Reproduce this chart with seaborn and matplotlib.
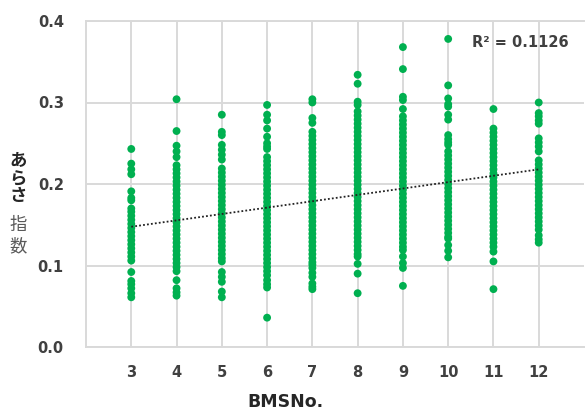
import matplotlib
matplotlib.use("Agg")
import matplotlib.pyplot as plt
import seaborn as sns
import pandas as pd
import numpy as np

# ---- data ----
bms_3 = [0.243, 0.225, 0.218, 0.212, 0.191, 0.183, 0.180, 0.170,
         0.166, 0.161, 0.156, 0.151, 0.146, 0.141, 0.136, 0.131, 0.126,
         0.121, 0.116, 0.111, 0.106, 0.092, 0.081, 0.077, 0.072, 0.066, 0.061]
bms_4 = [0.304, 0.265, 0.247, 0.240, 0.233,
         0.223, 0.218, 0.213, 0.208, 0.203, 0.198, 0.193, 0.188, 0.183, 0.178,
         0.173, 0.168, 0.163, 0.158, 0.153, 0.148, 0.143, 0.138, 0.133, 0.128,
         0.123, 0.118, 0.113, 0.108, 0.103, 0.098, 0.093,
         0.082, 0.072, 0.067, 0.063]
bms_5 = [0.285, 0.264, 0.260, 0.248, 0.242, 0.236, 0.230,
         0.219, 0.214, 0.209, 0.204, 0.199, 0.194, 0.189, 0.184, 0.179, 0.174,
         0.169, 0.164, 0.159, 0.154, 0.149, 0.144, 0.139, 0.134, 0.129, 0.124,
         0.119, 0.114, 0.109, 0.105,
         0.092, 0.086, 0.080, 0.068, 0.061]
bms_6 = [0.297, 0.285, 0.278, 0.268, 0.258, 0.250, 0.246, 0.243,
         0.233, 0.228, 0.223, 0.218, 0.213, 0.208, 0.203, 0.198, 0.193, 0.188,
         0.183, 0.178, 0.173, 0.168, 0.163, 0.158, 0.153, 0.148, 0.143, 0.138,
         0.133, 0.128, 0.123, 0.118, 0.113, 0.108, 0.103, 0.098, 0.093, 0.088,
         0.082, 0.077, 0.073, 0.036]
bms_7 = [0.304, 0.300, 0.281, 0.275,
         0.264, 0.259, 0.254, 0.249, 0.244, 0.239, 0.234, 0.229, 0.224, 0.219,
         0.214, 0.209, 0.204, 0.199, 0.194, 0.189, 0.184, 0.179, 0.174, 0.169,
         0.164, 0.159, 0.154, 0.149, 0.144, 0.139, 0.134, 0.129, 0.124, 0.119,
         0.114, 0.109, 0.104, 0.101,
         0.097, 0.091, 0.086, 0.078, 0.074, 0.071]
bms_8 = [0.334, 0.323, 0.301, 0.297,
         0.289, 0.284, 0.279, 0.274, 0.269, 0.264, 0.259, 0.254, 0.249, 0.244,
         0.239, 0.234, 0.229, 0.224, 0.219, 0.214, 0.209, 0.204, 0.199, 0.194,
         0.189, 0.184, 0.179, 0.174, 0.169, 0.164, 0.159, 0.154, 0.149, 0.144,
         0.139, 0.134, 0.129, 0.124, 0.119, 0.114, 0.111,
         0.102, 0.090, 0.066]
bms_9 = [0.368, 0.341, 0.307, 0.303, 0.292,
         0.283, 0.278, 0.273, 0.268, 0.263, 0.258, 0.253, 0.248, 0.243, 0.238,
         0.233, 0.228, 0.223, 0.218, 0.213, 0.208, 0.203, 0.198, 0.193, 0.188,
         0.183, 0.178, 0.173, 0.168, 0.163, 0.158, 0.153, 0.148, 0.143, 0.138,
         0.133, 0.128, 0.123, 0.119,
         0.111, 0.103, 0.097, 0.075]
bms_10 = [0.378, 0.321, 0.305, 0.298, 0.295, 0.285, 0.279,
          0.260, 0.255, 0.251, 0.248,
          0.240, 0.235, 0.230, 0.225, 0.220, 0.215, 0.210, 0.205, 0.200, 0.195,
          0.190, 0.185, 0.180, 0.175, 0.170, 0.165, 0.160, 0.155, 0.150, 0.145,
          0.140, 0.135, 0.133,
          0.125, 0.118, 0.110]
bms_11 = [0.292,
          0.268, 0.263, 0.258, 0.253, 0.248, 0.243, 0.238, 0.233, 0.228, 0.223,
          0.218, 0.213, 0.208, 0.203, 0.198, 0.193, 0.188, 0.183, 0.178, 0.173,
          0.168, 0.163, 0.158, 0.153, 0.148, 0.143, 0.138, 0.133, 0.128, 0.123,
          0.117, 0.105, 0.071]
bms_12 = [0.300, 0.287, 0.283, 0.278, 0.274, 0.256, 0.251, 0.246, 0.240,
          0.229, 0.224, 0.219, 0.214, 0.209, 0.204, 0.199, 0.194, 0.189, 0.184,
          0.179, 0.174, 0.169, 0.164, 0.159, 0.154, 0.149, 0.144,
          0.137, 0.132, 0.128]

bms_values = [3, 4, 5, 6, 7, 8, 9, 10, 11, 12]
columns = [bms_3, bms_4, bms_5, bms_6, bms_7, bms_8, bms_9, bms_10, bms_11, bms_12]

trend_slope = 0.00782
trend_intercept = 0.1241
trend_x = [3, 12]
r2_label = "R² = 0.1126"

x_ticks = [3, 4, 5, 6, 7, 8, 9, 10, 11, 12]
y_ticks = [0.0, 0.1, 0.2, 0.3, 0.4]
y_label_chars_bold = ["あ", "ら", "さ"]
y_label_chars_light = ["指", "数"]
x_label = "BMSNo."

# ---- build frame ----
rows = []
for b, vals in zip(bms_values, columns):
    for v in vals:
        rows.append({"BMSNo.": b, "index": v})
df = pd.DataFrame(rows)
trend_df = pd.DataFrame({"x": trend_x,
                         "y": [trend_intercept + trend_slope * t for t in trend_x]})

sns.set_theme(style="white")
plt.rcParams['font.family'] = ['DejaVu Sans', 'Noto Sans CJK JP']

W, H = 585, 412
fig = plt.figure(figsize=(W / 100, H / 100), dpi=100)
ax = fig.add_axes([86 / W, (H - 347) / H, (584 - 86) / W, (347 - 21) / H])

green = "#00B050"
grid_c = "#D9D9D9"

sns.scatterplot(data=df, x="BMSNo.", y="index", ax=ax, color=green,
                s=32, edgecolor="none", linewidth=0, zorder=3)
sns.lineplot(data=trend_df, x="x", y="y", ax=ax, color="#222222",
             linewidth=1.3, linestyle=(0, (1, 1.2)), zorder=4)

ax.set_xlim(2, 13)
ax.set_ylim(0, 0.4)
ax.set_xticks(x_ticks)
ax.set_yticks(y_ticks)
ax.set_xticklabels([str(t) for t in x_ticks])
ax.set_yticklabels([f"{t:.1f}" for t in y_ticks])
ax.grid(True, color=grid_c, linewidth=1.4, zorder=0)
ax.set_axisbelow(True)
for side in ["left", "bottom", "top"]:
    ax.spines[side].set_color(grid_c)
    ax.spines[side].set_linewidth(1.4)
ax.spines["right"].set_visible(False)

ax.tick_params(axis="both", length=0, labelsize=10.5, labelcolor="#404040")
ax.tick_params(axis="y", pad=16)
ax.tick_params(axis="x", pad=13)
for lab in ax.get_xticklabels() + ax.get_yticklabels():
    lab.set_fontweight("bold")

ax.set_xlabel("")
ax.set_ylabel("")

fig.text(285.5 / W, 1 - 402 / H, x_label, ha="center", va="center",
         fontsize=12.5, fontweight="bold", color="#262626")

ax.text(0.97, 0.935, r2_label, transform=ax.transAxes, ha="right", va="center",
        fontsize=10.5, fontweight="bold", color="#404040")

# vertical stacked y label
ys = [161, 179, 196, 225, 246]
chars = y_label_chars_bold + y_label_chars_light
for i, (c, yp) in enumerate(zip(chars, ys)):
    bold = i < len(y_label_chars_bold)
    fig.text(18 / W, 1 - yp / H, c, ha="center", va="center",
             fontsize=12.5, fontweight="bold" if bold else "normal",
             color="#262626" if bold else "#595959",
             family=['Noto Sans CJK JP', 'DejaVu Sans'])

fig.savefig("out.png", dpi=100)
